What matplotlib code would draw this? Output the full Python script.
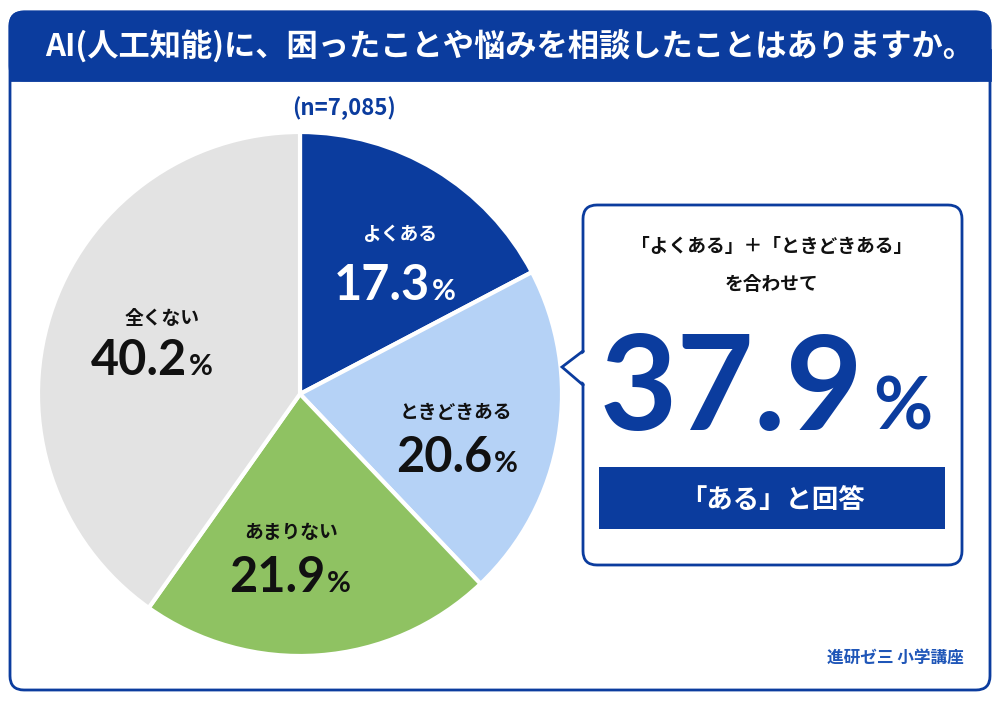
import matplotlib.pyplot as plt
from matplotlib.patches import FancyBboxPatch, Rectangle, Polygon

plt.rcParams['font.family'] = ['Noto Sans CJK JP', 'DejaVu Sans']

title = 'AI(人工知能)に、困ったことや悩みを相談したことはありますか。'
n_text = '(n=7,085)'
labels = ['よくある', 'ときどきある', 'あまりない', '全くない']
values = [17.3, 20.6, 21.9, 40.2]
colors = ['#0b3c9e', '#b5d2f6', '#8fc262', '#e3e3e3']
num_colors = ['white', '#111111', '#111111', '#111111']
source = '進研ゼ三 小学講座'

BLUE = '#0b3c9e'
NUMFONT = ['Lato', 'Noto Sans CJK JP']
H = 702

fig = plt.figure(figsize=(10, 7.02), dpi=100)
ax = fig.add_axes([0, 0, 1, 1])

# outer frame + header band
ax.add_patch(FancyBboxPatch((10, 12), 980, 678, boxstyle='round,pad=0,rounding_size=14',
                            fc='white', ec=BLUE, lw=2, zorder=0))
ax.add_patch(FancyBboxPatch((10, 622), 980, 68, boxstyle='round,pad=0,rounding_size=14',
                            fc=BLUE, ec=BLUE, lw=2, zorder=1))
ax.add_patch(Rectangle((10, 622), 980, 30, fc=BLUE, ec=BLUE, lw=2, zorder=1))
ax.text(510, 655, title, color='white', fontsize=22.5, fontweight='bold',
        ha='center', va='center', zorder=2)

# pie
cx, cy, r = 300, H - 394, 262
ax.pie(values, colors=colors, startangle=90, counterclock=False, center=(cx, cy),
       radius=r, frame=True, wedgeprops=dict(edgecolor='white', linewidth=3))
ax.text(344, H - 108, n_text, color=BLUE, fontsize=16, fontweight='bold',
        ha='center', va='center')

# (label x, label y, number right edge, number baseline) in image pixels
label_pos = [(400, 234, 430, 300), (456, 413, 492, 472),
             (291, 532, 325, 592), (162, 319, 187, 375)]
for (lx, ly, nx, ny), lab, v, c in zip(label_pos, labels, values, num_colors):
    ax.text(lx, H - ly, lab, color=c, fontsize=13.5, fontweight='bold',
            ha='center', va='center')
    ax.text(nx, H - ny, f'{v:.1f}', color=c, fontsize=35, fontweight='bold',
            ha='right', va='baseline', family=NUMFONT)
    ax.text(nx + 2, H - ny, '%', color=c, fontsize=21, fontweight='bold',
            ha='left', va='baseline', family=NUMFONT)

# callout box
ax.add_patch(FancyBboxPatch((583, 137), 379, 360, boxstyle='round,pad=0,rounding_size=14',
                            fc='white', ec=BLUE, lw=2, zorder=3))
ax.add_patch(Polygon([(587, 351), (562, 335), (587, 317)], closed=True,
                     fc='white', ec='none', zorder=4))
ax.plot([583, 562, 583], [351, 335, 317], color=BLUE, lw=2, zorder=5,
        solid_joinstyle='miter')
ax.text(772, H - 246, '「よくある」＋「ときどきある」', color='#111111', fontsize=13.5,
        fontweight='bold', ha='center', va='center', zorder=6)
ax.text(772, H - 285, 'を合わせて', color='#111111', fontsize=13.5,
        fontweight='bold', ha='center', va='center', zorder=6)
total = values[0] + values[1]
ax.text(863, H - 430, f'{total:.1f}', color=BLUE, fontsize=96, fontweight='bold',
        ha='right', va='baseline', family=NUMFONT, zorder=6)
ax.text(873, H - 430, '%', color=BLUE, fontsize=52, fontweight='bold',
        ha='left', va='baseline', family=NUMFONT, zorder=6)
ax.add_patch(Rectangle((599, 173), 346, 62, fc=BLUE, ec='none', zorder=6))
ax.text(772, H - 500, '「ある」と回答', color='white', fontsize=19, fontweight='bold',
        ha='center', va='center', zorder=7)

ax.text(895, H - 658, source, color='#1f56b8', fontsize=12, fontweight='bold',
        ha='center', va='center')

ax.set_xlim(0, 1000)
ax.set_ylim(0, H)
ax.set_aspect('equal')
ax.axis('off')
fig.savefig('out.png', dpi=100, facecolor='white')
